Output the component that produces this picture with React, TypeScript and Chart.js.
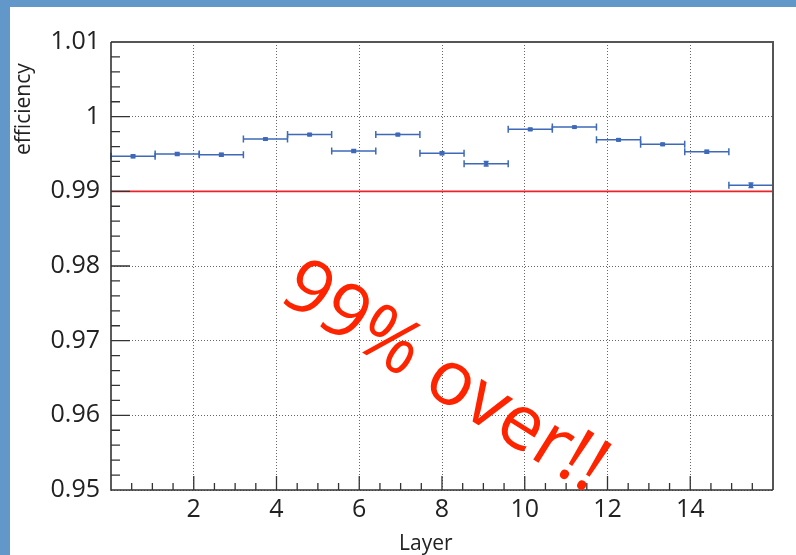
import React, { useEffect, useRef } from "react";
import { Chart, registerables } from "chart.js";

Chart.register(...registerables);

// ---- data ----
const layerCenters = [0.533, 1.6, 2.667, 3.733, 4.8, 5.867, 6.933, 8.0, 9.067, 10.133, 11.2, 12.267, 13.333, 14.4, 15.467];
const layerHalfWidth = [0.533, 0.533, 0.533, 0.533, 0.533, 0.533, 0.533, 0.533, 0.533, 0.533, 0.533, 0.533, 0.533, 0.533, 0.533];
const efficiency = [0.9947, 0.995, 0.9949, 0.997, 0.9976, 0.9954, 0.9976, 0.9951, 0.9937, 0.9983, 0.9986, 0.9969, 0.9963, 0.9953, 0.9908];
const efficiencyErr = [0.0002, 0.0002, 0.0002, 0.00015, 0.00015, 0.0002, 0.00015, 0.0002, 0.0003, 0.00015, 0.00012, 0.00015, 0.00015, 0.0002, 0.0003];
const thresholdLine = [0.99, 0.99];
const thresholdX = [0, 16];
const xTickValues = [2, 4, 6, 8, 10, 12, 14];
const yTickValues = [0.95, 0.96, 0.97, 0.98, 0.99, 1.0, 1.01];
const yTickLabels = ["0.95", "0.96", "0.97", "0.98", "0.99", "1", "1.01"];
const xTitle = "Layer";
const yTitle = "efficiency";
const annotation = "99% over!!";

const FONT = "'Open Sans', 'DejaVu Sans', sans-serif";
const BLUE = "#3d69b8";

const rootPlugin = {
  id: "rootStyle",
  beforeDraw(chart: any) {
    const { ctx, width, height } = chart;
    ctx.save();
    ctx.fillStyle = "#ffffff";
    ctx.fillRect(0, 0, width, height);
    ctx.fillStyle = "#6197c9";
    ctx.fillRect(0, 0, width, 7);
    ctx.fillRect(0, 0, 10, height);
    ctx.restore();
  },
  afterDatasetsDraw(chart: any) {
    const { ctx } = chart;
    const xs = chart.scales.x;
    const ys = chart.scales.y;
    ctx.save();
    ctx.strokeStyle = BLUE;
    ctx.lineWidth = 1.5;
    for (let i = 0; i < layerCenters.length; i++) {
      const x0 = xs.getPixelForValue(layerCenters[i] - layerHalfWidth[i]);
      const x1 = xs.getPixelForValue(layerCenters[i] + layerHalfWidth[i]);
      const xc = xs.getPixelForValue(layerCenters[i]);
      const y = ys.getPixelForValue(efficiency[i]);
      const yTop = ys.getPixelForValue(efficiency[i] + efficiencyErr[i]);
      const yBot = ys.getPixelForValue(efficiency[i] - efficiencyErr[i]);
      ctx.beginPath();
      ctx.moveTo(x0, y);
      ctx.lineTo(x1, y);
      ctx.moveTo(x0, y - 3.5);
      ctx.lineTo(x0, y + 3.5);
      ctx.moveTo(x1, y - 3.5);
      ctx.lineTo(x1, y + 3.5);
      ctx.moveTo(xc, yTop);
      ctx.lineTo(xc, yBot);
      ctx.moveTo(xc - 2.5, yTop);
      ctx.lineTo(xc + 2.5, yTop);
      ctx.moveTo(xc - 2.5, yBot);
      ctx.lineTo(xc + 2.5, yBot);
      ctx.stroke();
    }
    ctx.restore();
  },
  afterDraw(chart: any) {
    const { ctx, chartArea } = chart;
    const { left, right, top, bottom } = chartArea;
    const xs = chart.scales.x;
    const ys = chart.scales.y;
    ctx.save();
    // frame
    ctx.strokeStyle = "#555";
    ctx.lineWidth = 2;
    ctx.beginPath();
    ctx.moveTo(left, top);
    ctx.lineTo(right, top);
    ctx.lineTo(right, bottom);
    ctx.stroke();
    ctx.strokeStyle = "#333";
    ctx.lineWidth = 1.6;
    ctx.beginPath();
    ctx.moveTo(left, top);
    ctx.lineTo(left, bottom);
    ctx.lineTo(right, bottom);
    ctx.stroke();
    // inward ticks
    ctx.lineWidth = 1.3;
    ctx.beginPath();
    for (let k = 0; k <= 32; k++) {
      const v = k * 0.5;
      const px = xs.getPixelForValue(v);
      if (px <= left + 1 || px >= right - 1) continue;
      const len = k % 4 === 0 ? 14 : 7;
      ctx.moveTo(px, bottom);
      ctx.lineTo(px, bottom - len);
    }
    for (let k = 0; k <= 30; k++) {
      const v = 0.95 + k * 0.002;
      const py = ys.getPixelForValue(v);
      if (py <= top + 1 || py >= bottom - 1) continue;
      const len = k % 5 === 0 ? 19 : 9;
      ctx.moveTo(left, py);
      ctx.lineTo(left + len, py);
    }
    ctx.stroke();
    // titles
    ctx.fillStyle = "#222";
    ctx.font = `21px ${FONT}`;
    ctx.textAlign = "left";
    ctx.textBaseline = "alphabetic";
    ctx.fillText(xTitle, 399, 550);
    ctx.save();
    ctx.translate(30, 155);
    ctx.rotate(-Math.PI / 2);
    ctx.fillText(yTitle, 0, 0);
    ctx.restore();
    // annotation
    ctx.save();
    ctx.translate(444, 378);
    ctx.rotate((32 * Math.PI) / 180);
    ctx.fillStyle = "#ff2400";
    ctx.font = `76px ${FONT}`;
    ctx.textAlign = "center";
    ctx.textBaseline = "middle";
    ctx.fillText(annotation, 0, 0);
    ctx.restore();
    ctx.restore();
  },
};

export default function App() {
  const canvasRef = useRef<HTMLCanvasElement | null>(null);

  useEffect(() => {
    document.body.style.margin = "0";
    const canvas = canvasRef.current;
    if (!canvas) return;
    const chart = new Chart(canvas, {
      type: "scatter",
      data: {
        datasets: [
          {
            label: "efficiency",
            data: layerCenters.map((x, i) => ({ x, y: efficiency[i] })),
            pointStyle: "rect",
            pointRadius: 2.8,
            pointBackgroundColor: BLUE,
            pointBorderColor: BLUE,
            pointBorderWidth: 0,
            showLine: false,
          },
          {
            label: "threshold",
            data: thresholdX.map((x, i) => ({ x, y: thresholdLine[i] })),
            showLine: true,
            borderColor: "#e8232a",
            borderWidth: 1.6,
            pointRadius: 0,
          },
        ],
      },
      options: {
        responsive: false,
        animation: false,
        devicePixelRatio: 1,
        layout: { padding: { left: 0, top: 42, right: 23, bottom: 0 } },
        plugins: { legend: { display: false }, tooltip: { enabled: false }, title: { display: false } },
        scales: {
          x: {
            type: "linear",
            min: 0,
            max: 16,
            afterFit: (s: any) => {
              s.height = 65;
            },
            afterBuildTicks: (s: any) => {
              s.ticks = xTickValues.map((v) => ({ value: v }));
            },
            ticks: {
              font: { size: 25, family: FONT },
              color: "#222",
              padding: 5,
              maxRotation: 0,
              autoSkip: false,
              callback: (v: any) => String(v),
            },
            grid: { color: "#666", lineWidth: 1, drawTicks: false },
            border: { display: false, dash: [1, 2] },
          },
          y: {
            type: "linear",
            min: 0.95,
            max: 1.01,
            afterFit: (s: any) => {
              s.width = 111;
            },
            afterBuildTicks: (s: any) => {
              s.ticks = yTickValues.map((v) => ({ value: v }));
            },
            ticks: {
              font: { size: 25, family: FONT },
              color: "#222",
              padding: 11,
              autoSkip: false,
              callback: (v: any) => {
                const idx = yTickValues.findIndex((t) => Math.abs(t - v) < 1e-9);
                return idx >= 0 ? yTickLabels[idx] : "";
              },
            },
            grid: { color: "#666", lineWidth: 1, drawTicks: false },
            border: { display: false, dash: [1, 2] },
          },
        },
      },
      plugins: [rootPlugin],
    });
    return () => chart.destroy();
  }, []);

  return (
    <div style={{ width: 796, height: 555, position: "relative" }}>
      <canvas ref={canvasRef} width={796} height={555} style={{ display: "block" }} />
    </div>
  );
}
